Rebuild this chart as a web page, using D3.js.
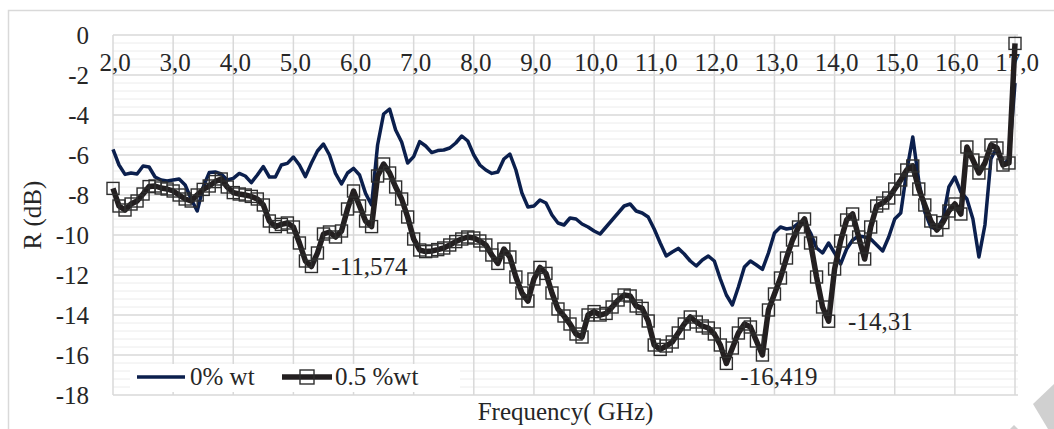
<!DOCTYPE html>
<html>
<head>
<meta charset="utf-8">
<script src="https://cdn.jsdelivr.net/npm/d3@7"></script>
<style>
  html, body { margin: 0; padding: 0; background: #fff; }
  svg { display: block; }
</style>
</head>
<body>
<script>
// ---------- DATA ----------
const freq = [
  2.0,2.1,2.2,2.3,2.4,2.5,2.6,2.7,2.8,2.9,
  3.0,3.1,3.2,3.3,3.4,3.5,3.6,3.7,3.8,3.9,
  4.0,4.1,4.2,4.3,4.4,4.5,4.6,4.7,4.8,4.9,
  5.0,5.1,5.2,5.3,5.4,5.5,5.6,5.7,5.8,5.9,
  6.0,6.1,6.2,6.3,6.4,6.5,6.6,6.7,6.8,6.9,
  7.0,7.1,7.2,7.3,7.4,7.5,7.6,7.7,7.8,7.9,
  8.0,8.1,8.2,8.3,8.4,8.5,8.6,8.7,8.8,8.9,
  9.0,9.1,9.2,9.3,9.4,9.5,9.6,9.7,9.8,9.9,
  10.0,10.1,10.2,10.3,10.4,10.5,10.6,10.7,10.8,10.9,
  11.0,11.1,11.2,11.3,11.4,11.5,11.6,11.7,11.8,11.9,
  12.0,12.1,12.2,12.3,12.4,12.5,12.6,12.7,12.8,12.9,
  13.0,13.1,13.2,13.3,13.4,13.5,13.6,13.7,13.8,13.9,
  14.0,14.1,14.2,14.3,14.4,14.5,14.6,14.7,14.8,14.9,
  15.0,15.1,15.2,15.3,15.4,15.5,15.6,15.7,15.8,15.9,
  16.0,16.1,16.2,16.3,16.4,16.5,16.6,16.7,16.8,16.9,
  17.0
];

const wt0 = [
  -5.72,-6.5,-6.97,-6.9,-6.95,-6.55,-6.6,-7.1,-7.25,-7.3,
  -7.25,-7.2,-7.5,-8.2,-8.8,-7.6,-6.88,-6.85,-6.95,-7.25,
  -7.17,-6.92,-7.05,-7.38,-7.0,-6.58,-7.1,-7.1,-6.5,-6.42,
  -6.1,-6.5,-7.08,-6.4,-5.8,-5.45,-6.0,-6.92,-7.45,-6.9,
  -6.67,-7.0,-7.92,-8.5,-5.5,-3.95,-3.7,-4.75,-5.35,-6.4,
  -6.08,-5.33,-5.55,-5.88,-5.78,-5.75,-5.65,-5.4,-5.05,-5.3,
  -6.0,-6.5,-6.75,-6.92,-6.85,-6.2,-5.95,-6.75,-7.9,-8.6,
  -8.55,-8.25,-8.4,-9.0,-9.4,-9.5,-9.15,-9.2,-9.45,-9.6,
  -9.8,-9.95,-9.6,-9.25,-8.9,-8.55,-8.45,-8.8,-8.9,-9.1,
  -9.7,-10.4,-11.05,-10.85,-10.67,-10.95,-11.3,-11.55,-11.25,-11.05,
  -11.3,-12.2,-13.0,-13.5,-12.6,-11.6,-11.3,-11.5,-11.72,-10.9,
  -9.9,-9.6,-9.7,-9.65,-9.4,-9.35,-9.9,-10.65,-10.9,-10.4,
  -10.9,-11.45,-10.7,-10.25,-10.05,-10.1,-10.2,-10.5,-10.8,-10.1,
  -9.2,-8.9,-6.8,-5.1,-7.3,-8.85,-9.6,-9.7,-9.2,-7.6,
  -7.1,-7.85,-8.2,-9.2,-11.1,-9.5,-6.2,-5.6,-6.5,-6.2,
  -2.4
];

const wt05 = [
  -7.67,-8.55,-8.75,-8.45,-8.3,-7.95,-7.58,-7.55,-7.65,-7.7,
  -7.8,-8.0,-8.2,-8.3,-8.0,-7.72,-7.55,-7.33,-7.2,-7.6,
  -7.88,-7.95,-8.0,-8.07,-8.2,-8.5,-9.3,-9.58,-9.47,-9.4,
  -9.6,-10.4,-11.3,-11.574,-10.9,-9.95,-9.85,-10.1,-9.8,-8.7,
  -7.8,-8.55,-9.3,-9.58,-7.05,-6.45,-6.9,-7.6,-8.2,-9.1,
  -10.2,-10.75,-10.83,-10.8,-10.73,-10.65,-10.5,-10.33,-10.2,-10.1,
  -10.15,-10.3,-10.5,-11.0,-11.42,-10.7,-11.1,-12.1,-12.9,-13.3,
  -12.2,-11.62,-11.92,-12.9,-13.7,-14.05,-14.45,-14.95,-15.1,-14.0,
  -13.83,-14.0,-13.92,-13.6,-13.25,-13.0,-13.05,-13.55,-13.67,-14.3,
  -15.5,-15.72,-15.55,-15.35,-14.9,-14.45,-14.1,-14.35,-14.55,-14.65,
  -14.95,-15.5,-16.419,-15.65,-14.9,-14.45,-14.6,-15.3,-16.0,-13.75,
  -12.95,-12.15,-11.15,-10.25,-9.6,-9.2,-10.4,-12.1,-13.6,-14.31,
  -11.7,-10.3,-9.25,-8.95,-10.1,-11.2,-9.6,-8.55,-8.4,-8.15,
  -7.7,-7.25,-6.75,-6.55,-7.7,-8.5,-9.3,-9.75,-9.38,-8.8,
  -8.45,-8.95,-5.6,-6.25,-6.9,-6.4,-5.5,-5.65,-6.5,-6.4,
  -0.42
];

const xTicks = [2,3,4,5,6,7,8,9,10,11,12,13,14,15,16,17];
const xTickLabels = ["2,0","3,0","4,0","5,0","6,0","7,0","8,0","9,0","10,0","11,0","12,0","13,0","14,0","15,0","16,0","17,0"];
const yTicks = [0,-2,-4,-6,-8,-10,-12,-14,-16,-18];
const yTickLabels = ["0","-2","-4","-6","-8","-10","-12","-14","-16","-18"];
const seriesNames = ["0% wt", "0.5 %wt"];
const annotFreq = [5.3, 12.2, 13.9];
const annotValue = [-11.574, -16.419, -14.31];
const annotLabels = ["-11,574", "-16,419", "-14,31"];
const xTitle = "Frequency( GHz)";
const yTitle = "R (dB)";

// ---------- LAYOUT ----------
const W = 1054, H = 429;
const plot = { left: 113, right: 1018, top: 35, bottom: 395 };
const FS = 25;
const FONT = "'Liberation Serif', 'Times New Roman', Times, 'DejaVu Serif', serif";
const TXT = "#262626";

const svg = d3.select("body").append("svg").attr("width", W).attr("height", H)
  .attr("font-family", FONT);

// chart area border
svg.append("rect").attr("x", 8.5).attr("y", 10.5).attr("width", W + 20).attr("height", H + 20)
  .attr("fill", "#fff").attr("stroke", "#d9d9d9").attr("stroke-width", 1.5);

const x = d3.scaleLinear().domain([2, 17]).range([plot.left, 1015]);
const y = d3.scaleLinear().domain([-18, 0]).range([plot.bottom, plot.top]);

// minor horizontal grid
const minor = d3.range(0, 45).map(k => -18 + k * 0.4).filter(v => Math.abs(v / 2 - Math.round(v / 2)) > 1e-6);
svg.append("g").selectAll("line").data(minor).join("line")
  .attr("x1", plot.left).attr("x2", plot.right)
  .attr("y1", d => y(d)).attr("y2", d => y(d))
  .attr("stroke", "#ececec").attr("stroke-width", 1);

// major horizontal grid
svg.append("g").selectAll("line").data(yTicks).join("line")
  .attr("x1", plot.left).attr("x2", plot.right)
  .attr("y1", d => y(d)).attr("y2", d => y(d))
  .attr("stroke", "#d9d9d9").attr("stroke-width", 1.5);

// vertical grid
svg.append("g").selectAll("line").data(xTicks).join("line")
  .attr("x1", d => x(d)).attr("x2", d => x(d))
  .attr("y1", plot.top).attr("y2", plot.bottom)
  .attr("stroke", "#d9d9d9").attr("stroke-width", 1.5);

function txt(sel) {
  return sel.attr("font-family", FONT).attr("font-size", FS).attr("fill", TXT);
}

// y tick labels
txt(svg.append("g").selectAll("text").data(yTicks).join("text"))
  .attr("x", 89).attr("y", d => y(d)).attr("dy", "0.34em")
  .attr("text-anchor", "end")
  .text((d, i) => yTickLabels[i]);

// x tick labels (inside the plot near the top)
txt(svg.append("g").selectAll("text").data(xTicks).join("text"))
  .attr("x", d => x(d) + 2).attr("y", 71)
  .attr("text-anchor", "middle")
  .text((d, i) => xTickLabels[i]);

// axis titles
txt(svg.append("text")).attr("x", (plot.left + plot.right) / 2).attr("y", 420)
  .attr("text-anchor", "middle").text(xTitle);
txt(svg.append("text")).attr("transform", "translate(41,215) rotate(-90)")
  .attr("text-anchor", "middle").text(yTitle);

// series
const d0 = freq.map((f, i) => ({ f, v: wt0[i] }));
const d1 = freq.map((f, i) => ({ f, v: wt05[i] }));
const line = d3.line().x(d => x(d.f)).y(d => y(d.v));

svg.append("path").datum(d0).attr("d", line)
  .attr("fill", "none").attr("stroke", "#0b1f4d").attr("stroke-width", 3.5)
  .attr("stroke-linejoin", "round");

svg.append("path").datum(d1).attr("d", line)
  .attr("fill", "none").attr("stroke", "#231f20").attr("stroke-width", 5.5)
  .attr("stroke-linejoin", "round");

const MS = 12;
svg.append("g").selectAll("rect").data(d1).join("rect")
  .attr("x", d => x(d.f) - MS / 2).attr("y", d => y(d.v) - MS / 2)
  .attr("width", MS).attr("height", MS)
  .attr("fill", "none").attr("stroke", "#2e2e2e").attr("stroke-width", 1.4);

// annotations
const annotDx = [20, 14, 19.5];
const annotDy = [8.5, 21.5, 9];
txt(svg.append("g").selectAll("text").data(annotLabels).join("text"))
  .attr("x", (d, i) => x(annotFreq[i]) + annotDx[i])
  .attr("y", (d, i) => y(annotValue[i]) + annotDy[i])
  .text(d => d);

// legend
const lg = svg.append("g");
lg.append("rect").attr("x", 130).attr("y", 364).attr("width", 330).attr("height", 28).attr("fill", "#fff");
lg.append("line").attr("x1", 137).attr("x2", 185).attr("y1", 377).attr("y2", 377)
  .attr("stroke", "#0b1f4d").attr("stroke-width", 3.5);
txt(lg.append("text")).attr("x", 190).attr("y", 385).text(seriesNames[0]);
lg.append("line").attr("x1", 282).attr("x2", 332).attr("y1", 377).attr("y2", 377)
  .attr("stroke", "#231f20").attr("stroke-width", 5.5);
lg.append("rect").attr("x", 307 - 7).attr("y", 377 - 7).attr("width", 14).attr("height", 14)
  .attr("fill", "none").attr("stroke", "#2e2e2e").attr("stroke-width", 1.4);
txt(lg.append("text")).attr("x", 335).attr("y", 385).text(seriesNames[1]);

// watermark fragment (bottom-right corner)
svg.append("polygon")
  .attr("points", "1033,404 1054,384 1054,429 1048,429")
  .attr("fill", "#d0d0d0");
svg.append("polygon")
  .attr("points", "1010,429 1014,425 1018,429")
  .attr("fill", "#d0d0d0");
</script>
</body>
</html>
